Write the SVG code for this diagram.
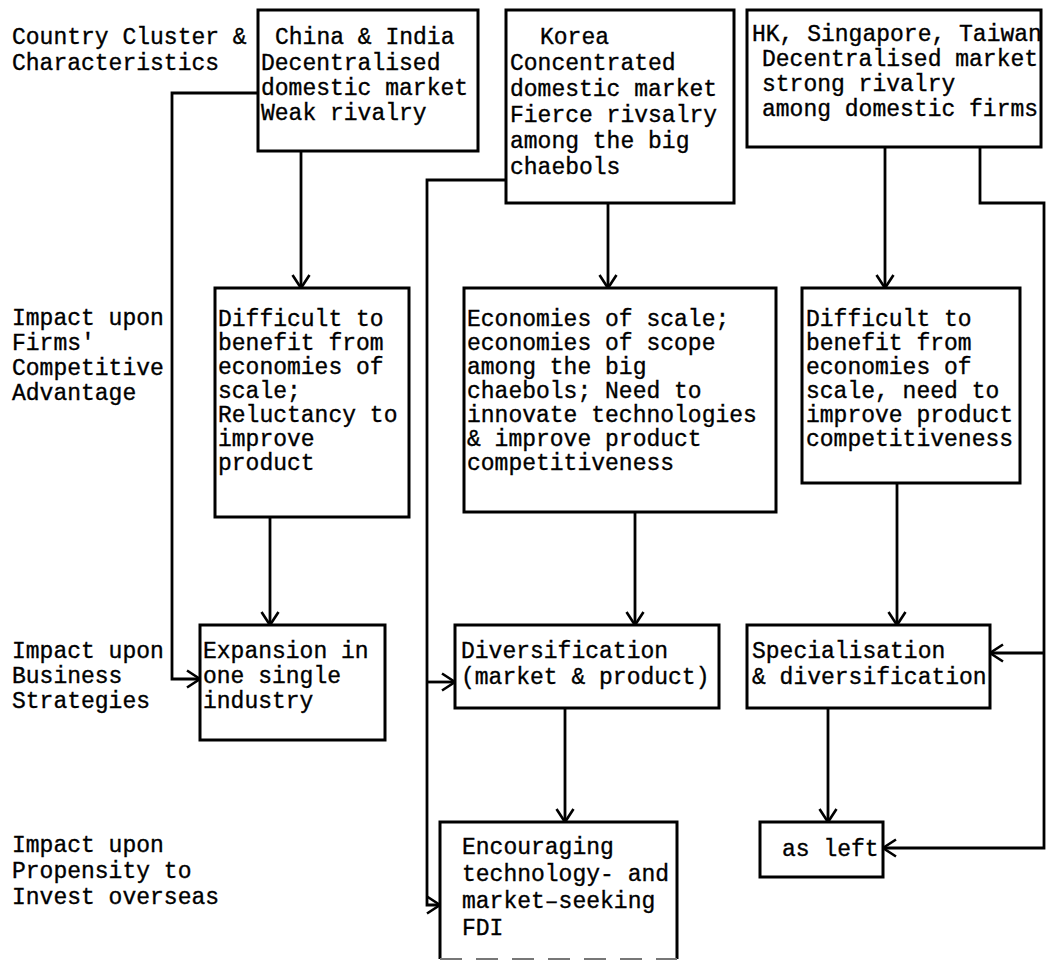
<svg xmlns="http://www.w3.org/2000/svg" width="1048" height="961" viewBox="0 0 1048 961">
  <style>
    text { font-family: "Liberation Mono", "Courier New", monospace; font-size: 23px; fill: #000; stroke: #000; stroke-width: 0.35; }
    .box { fill: #fff; stroke: #000; stroke-width: 3; }
    .wire { fill: none; stroke: #000; stroke-width: 2.8; }
  </style>
  <defs>
    <marker id="arrow" markerUnits="userSpaceOnUse" markerWidth="20" markerHeight="22" refX="15" refY="11" orient="auto">
      <path d="M2,2.5 L15,11 L2,19.5" fill="none" stroke="#000" stroke-width="2.6"/>
    </marker>
  </defs>

  <rect width="1048" height="961" fill="#fff"/>

  <!-- row labels -->
  <g id="row-labels">
    <text x="12" y="44">Country Cluster &amp;</text>
    <text x="12" y="70">Characteristics</text>
    <text x="12" y="325">Impact upon</text>
    <text x="12" y="350">Firms'</text>
    <text x="12" y="375">Competitive</text>
    <text x="12" y="400">Advantage</text>
    <text x="12" y="658">Impact upon</text>
    <text x="12" y="683">Business</text>
    <text x="12" y="708">Strategies</text>
    <text x="12" y="852">Impact upon</text>
    <text x="12" y="878">Propensity to</text>
    <text x="12" y="904">Invest overseas</text>
  </g>

  <!-- connectors -->
  <g id="connectors">
    <path class="wire" d="M258,93 H172 V679 H200" marker-end="url(#arrow)"/>
    <path class="wire" d="M301,151 V288" marker-end="url(#arrow)"/>
    <path class="wire" d="M270,517 V625" marker-end="url(#arrow)"/>
    <path class="wire" d="M506,180 H427 V905 H440" marker-end="url(#arrow)"/>
    <path class="wire" d="M427,682 H455" marker-end="url(#arrow)"/>
    <path class="wire" d="M608,203 V288" marker-end="url(#arrow)"/>
    <path class="wire" d="M635,512 V625" marker-end="url(#arrow)"/>
    <path class="wire" d="M565,708 V822" marker-end="url(#arrow)"/>
    <path class="wire" d="M885,147 V288" marker-end="url(#arrow)"/>
    <path class="wire" d="M897,483 V625" marker-end="url(#arrow)"/>
    <path class="wire" d="M828,708 V822" marker-end="url(#arrow)"/>
    <path class="wire" d="M980,147 V203 H1044 V848 H883" marker-end="url(#arrow)"/>
    <path class="wire" d="M1044,653 H990" marker-end="url(#arrow)"/>
  </g>

  <!-- country clusters -->
  <g id="china-india">
    <rect class="box" x="258" y="10" width="220" height="141"/>
    <text x="275" y="44">China &amp; India</text>
    <text x="261" y="70">Decentralised</text>
    <text x="261" y="95">domestic market</text>
    <text x="261" y="120">Weak rivalry</text>
  </g>
  <g id="korea">
    <rect class="box" x="506" y="10" width="228" height="193"/>
    <text x="540" y="44">Korea</text>
    <text x="510" y="70">Concentrated</text>
    <text x="510" y="96">domestic market</text>
    <text x="510" y="122">Fierce rivsalry</text>
    <text x="510" y="148">among the big</text>
    <text x="510" y="174">chaebols</text>
  </g>
  <g id="hk-singapore-taiwan">
    <rect class="box" x="747" y="10" width="294" height="137"/>
    <text x="752" y="41">HK, Singapore, Taiwan</text>
    <text x="762" y="66">Decentralised market</text>
    <text x="762" y="91">strong rivalry</text>
    <text x="762" y="116">among domestic firms</text>
  </g>

  <!-- competitive advantage -->
  <g id="advantage-china-india">
    <rect class="box" x="215" y="288" width="194" height="229"/>
    <text x="218" y="326">Difficult to</text>
    <text x="218" y="350">benefit from</text>
    <text x="218" y="374">economies of</text>
    <text x="218" y="398">scale;</text>
    <text x="218" y="422">Reluctancy to</text>
    <text x="218" y="446">improve</text>
    <text x="218" y="470">product</text>
  </g>
  <g id="advantage-korea">
    <rect class="box" x="464" y="288" width="312" height="224"/>
    <text x="467" y="326">Economies of scale;</text>
    <text x="467" y="350">economies of scope</text>
    <text x="467" y="374">among the big</text>
    <text x="467" y="398">chaebols; Need to</text>
    <text x="467" y="422">innovate technologies</text>
    <text x="467" y="446">&amp; improve product</text>
    <text x="467" y="470">competitiveness</text>
  </g>
  <g id="advantage-hk">
    <rect class="box" x="802" y="288" width="218" height="195"/>
    <text x="806" y="326">Difficult to</text>
    <text x="806" y="350">benefit from</text>
    <text x="806" y="374">economies of</text>
    <text x="806" y="398">scale, need to</text>
    <text x="806" y="422">improve product</text>
    <text x="806" y="446">competitiveness</text>
  </g>

  <!-- business strategies -->
  <g id="strategy-china-india">
    <rect class="box" x="200" y="625" width="185" height="115"/>
    <text x="203" y="658">Expansion in</text>
    <text x="203" y="683">one single</text>
    <text x="203" y="708">industry</text>
  </g>
  <g id="strategy-korea">
    <rect class="box" x="455" y="625" width="264" height="83"/>
    <text x="461" y="658">Diversification</text>
    <text x="461" y="684">(market &amp; product)</text>
  </g>
  <g id="strategy-hk">
    <rect class="box" x="747" y="625" width="243" height="83"/>
    <text x="752" y="658">Specialisation</text>
    <text x="752" y="684">&amp; diversification</text>
  </g>

  <!-- propensity to invest overseas -->
  <g id="fdi-korea">
    <path class="box" d="M440,959 V822 H677 V959"/>
    <line x1="440" y1="959" x2="677" y2="959" stroke="#777" stroke-width="2" stroke-dasharray="22,14"/>
    <text x="462" y="854">Encouraging</text>
    <text x="462" y="881">technology- and</text>
    <text x="462" y="908">market–seeking</text>
    <text x="462" y="935">FDI</text>
  </g>
  <g id="fdi-hk">
    <rect class="box" x="760" y="822" width="123" height="55"/>
    <text x="782" y="856">as left</text>
  </g>
</svg>
